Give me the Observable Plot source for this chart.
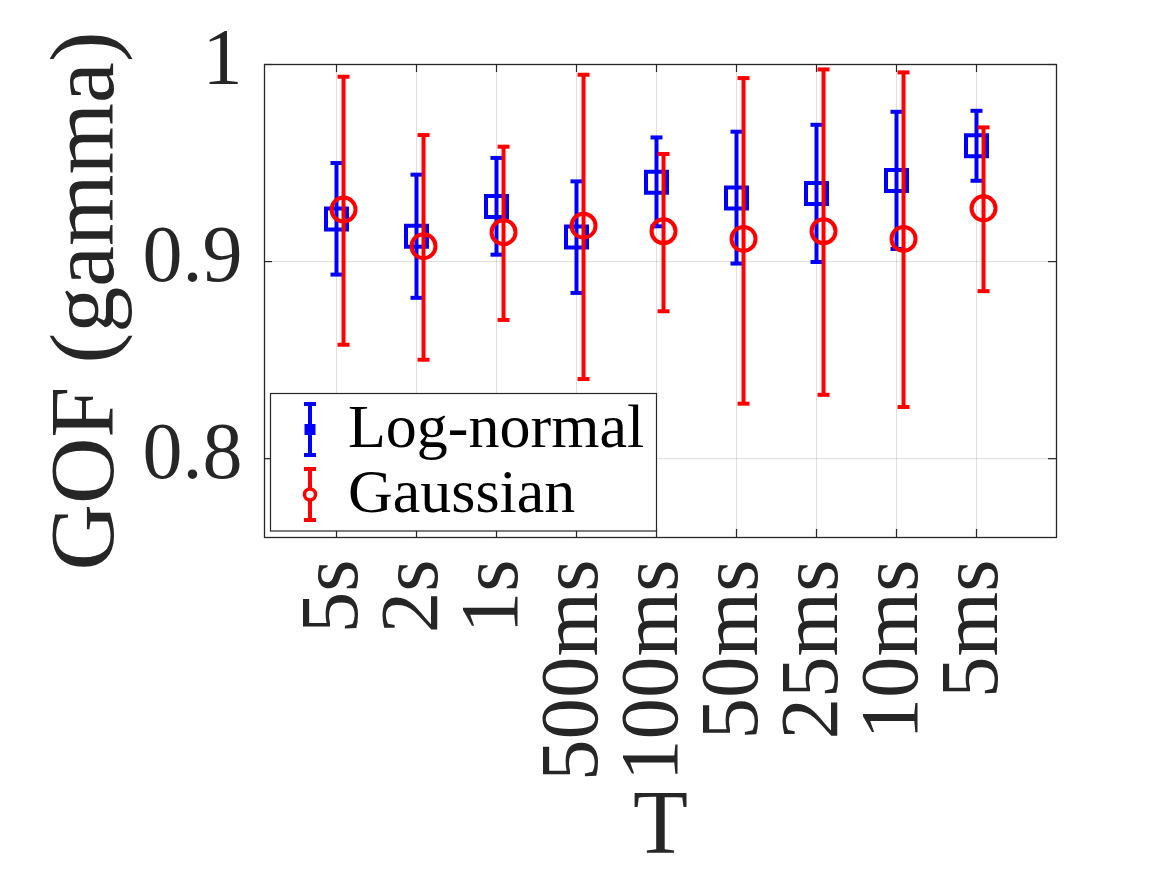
<!DOCTYPE html>
<html>
<head>
<meta charset="utf-8">
<script src="https://cdn.jsdelivr.net/npm/d3@7"></script>
<script src="https://cdn.jsdelivr.net/npm/@observablehq/plot@0.6"></script>
<style>
  html, body { margin: 0; padding: 0; background: #fff; }
  #chart { position: relative; width: 1167px; height: 875px; }
  #legend { position: absolute; left: 0; top: 0; pointer-events: none; }
</style>
</head>
<body>
<div id="chart"></div>
<script>
// Window lengths T
const labels = ["5s", "2s", "1s", "500ms", "100ms", "50ms", "25ms", "10ms", "5ms"];

// Log-normal fit: mean and error-bar limits
const logMean = [0.9216, 0.9128, 0.9280, 0.9125, 0.9402, 0.9323, 0.9346, 0.9411, 0.9588];
const logLow  = [0.8934, 0.8816, 0.9035, 0.8841, 0.9179, 0.8990, 0.8998, 0.9064, 0.9410];
const logHigh = [0.9500, 0.9441, 0.9526, 0.9407, 0.9630, 0.9659, 0.9694, 0.9760, 0.9765];

// Gaussian fit: mean and error-bar limits
const gaussMean = [0.9264, 0.9078, 0.9149, 0.9182, 0.9154, 0.9115, 0.9154, 0.9115, 0.9270];
const gaussLow  = [0.8578, 0.8502, 0.8704, 0.8404, 0.8748, 0.8279, 0.8324, 0.8262, 0.8850];
const gaussHigh = [0.9938, 0.9642, 0.9583, 0.9948, 0.9546, 0.9931, 0.9975, 0.9960, 0.9681];

const yTickValues = [0.8, 0.9, 1];
const yTickLabels = ["0.8", "0.9", "1"];

const positions = labels.map((_, i) => i + 1);
const gaussShift = 0.088; // small horizontal offset so the two series don't overlap

const logRows = labels.map((label, i) => ({label, x: positions[i], mean: logMean[i], lo: logLow[i], hi: logHigh[i]}));
const gaussRows = labels.map((label, i) => ({label, x: positions[i] + gaussShift, mean: gaussMean[i], lo: gaussLow[i], hi: gaussHigh[i]}));

// Horizontal cap used at both ends of every error bar
const capSymbol = {
  draw(context, size) {
    const r = Math.sqrt(size / Math.PI);
    context.moveTo(-r, 0);
    context.lineTo(r, 0);
  }
};

const W = 1167, H = 875;
const margin = {top: 64, right: 111, bottom: 338, left: 264};
const plotW = W - margin.left - margin.right;
const plotH = H - margin.top - margin.bottom;
const ink = "#262626";
const serif = "'Liberation Serif', 'Times New Roman', serif";
const blue = "#0000ff", red = "#ff0000";

function errorMarks(rows, color, symbol, r) {
  return [
    Plot.ruleX(rows, {x: "x", y1: "lo", y2: "hi", stroke: color, strokeWidth: 4}),
    Plot.dot(rows, {x: "x", y: "lo", symbol: capSymbol, r: 6, stroke: color, strokeWidth: 4, fill: "none", strokeLinecap: "butt"}),
    Plot.dot(rows, {x: "x", y: "hi", symbol: capSymbol, r: 6, stroke: color, strokeWidth: 4, fill: "none", strokeLinecap: "butt"}),
    Plot.dot(rows, {x: "x", y: "mean", symbol, r, stroke: color, strokeWidth: 4, fill: "none"})
  ];
}

const chart = Plot.plot({
  width: W,
  height: H,
  marginTop: margin.top,
  marginRight: margin.right,
  marginBottom: margin.bottom,
  marginLeft: margin.left,
  style: {fontFamily: serif, color: ink, background: "white", overflow: "visible"},
  x: {domain: [0.1, 10]},
  y: {domain: [0.76, 1]},
  marks: [
    // grid
    Plot.gridX({ticks: positions, stroke: ink, strokeOpacity: 0.15, strokeWidth: 1}),
    Plot.gridY({ticks: yTickValues, stroke: ink, strokeOpacity: 0.15, strokeWidth: 1}),
    // inward tick marks on all four sides
    Plot.ruleX(positions, {x: d => d, insetTop: plotH - 8, stroke: ink, strokeWidth: 1.2}),
    Plot.ruleX(positions, {x: d => d, insetBottom: plotH - 8, stroke: ink, strokeWidth: 1.2}),
    Plot.ruleY(yTickValues, {y: d => d, insetRight: plotW - 8, stroke: ink, strokeWidth: 1.2}),
    Plot.ruleY(yTickValues, {y: d => d, insetLeft: plotW - 8, stroke: ink, strokeWidth: 1.2}),
    Plot.frame({stroke: ink, strokeWidth: 1.3}),
    // axes
    Plot.axisY({
      ticks: yTickValues,
      tickFormat: d => yTickLabels[yTickValues.indexOf(d)],
      tickSize: 0, tickPadding: 22, fontSize: 80, dy: -6, label: null
    }),
    Plot.axisX({
      ticks: positions,
      tickFormat: d => labels[d - 1],
      tickSize: 0, tickPadding: 22, fontSize: 83,
      tickRotate: -90, textAnchor: "end", lineAnchor: "middle", dx: -6, label: null
    }),
    Plot.text(["GOF (gamma)"], {frameAnchor: "left", textAnchor: "middle", rotate: -90, dx: -152, lineAnchor: "bottom", fontSize: 92, fill: ink}),
    Plot.text(["T"], {frameAnchor: "bottom", textAnchor: "middle", dy: 315, lineAnchor: "bottom", fontSize: 90, fill: ink}),
    // series
    ...errorMarks(logRows, blue, "square", 11.85),
    ...errorMarks(gaussRows, red, "circle", 12)
  ]
});

const host = document.getElementById("chart");
host.appendChild(chart);

// Legend box in the lower-left corner of the axes
const legend = d3.select(host).append("svg")
  .attr("id", "legend")
  .attr("width", W)
  .attr("height", H);

legend.append("rect")
  .attr("x", 270.5).attr("y", 393.5)
  .attr("width", 386).attr("height", 137.5)
  .attr("fill", "white").attr("stroke", ink).attr("stroke-width", 1.2);

const entries = [
  {name: "Log-normal", color: blue, shape: "square", y0: 404, y1: 455, baseline: 447},
  {name: "Gaussian", color: red, shape: "circle", y0: 469, y1: 520, baseline: 512}
];

const ex = 310;
entries.forEach(e => {
  const g = legend.append("g").attr("stroke", e.color).attr("stroke-width", 4).attr("fill", "none");
  g.append("line").attr("x1", ex).attr("x2", ex).attr("y1", e.y0).attr("y2", e.y1);
  g.append("line").attr("x1", ex - 6).attr("x2", ex + 6).attr("y1", e.y0).attr("y2", e.y0);
  g.append("line").attr("x1", ex - 6).attr("x2", ex + 6).attr("y1", e.y1).attr("y2", e.y1);
  const cy = (e.y0 + e.y1) / 2;
  if (e.shape === "square") {
    g.append("rect").attr("x", ex - 3.5).attr("y", cy - 3.5).attr("width", 7).attr("height", 7);
  } else {
    g.append("circle").attr("cx", ex).attr("cy", cy).attr("r", 5.5).attr("stroke-width", 3.5).attr("fill", "white");
  }
  legend.append("text")
    .attr("x", 348).attr("y", e.baseline)
    .attr("font-family", serif).attr("font-size", 62).attr("fill", "#000")
    .text(e.name);
});
</script>
</body>
</html>
